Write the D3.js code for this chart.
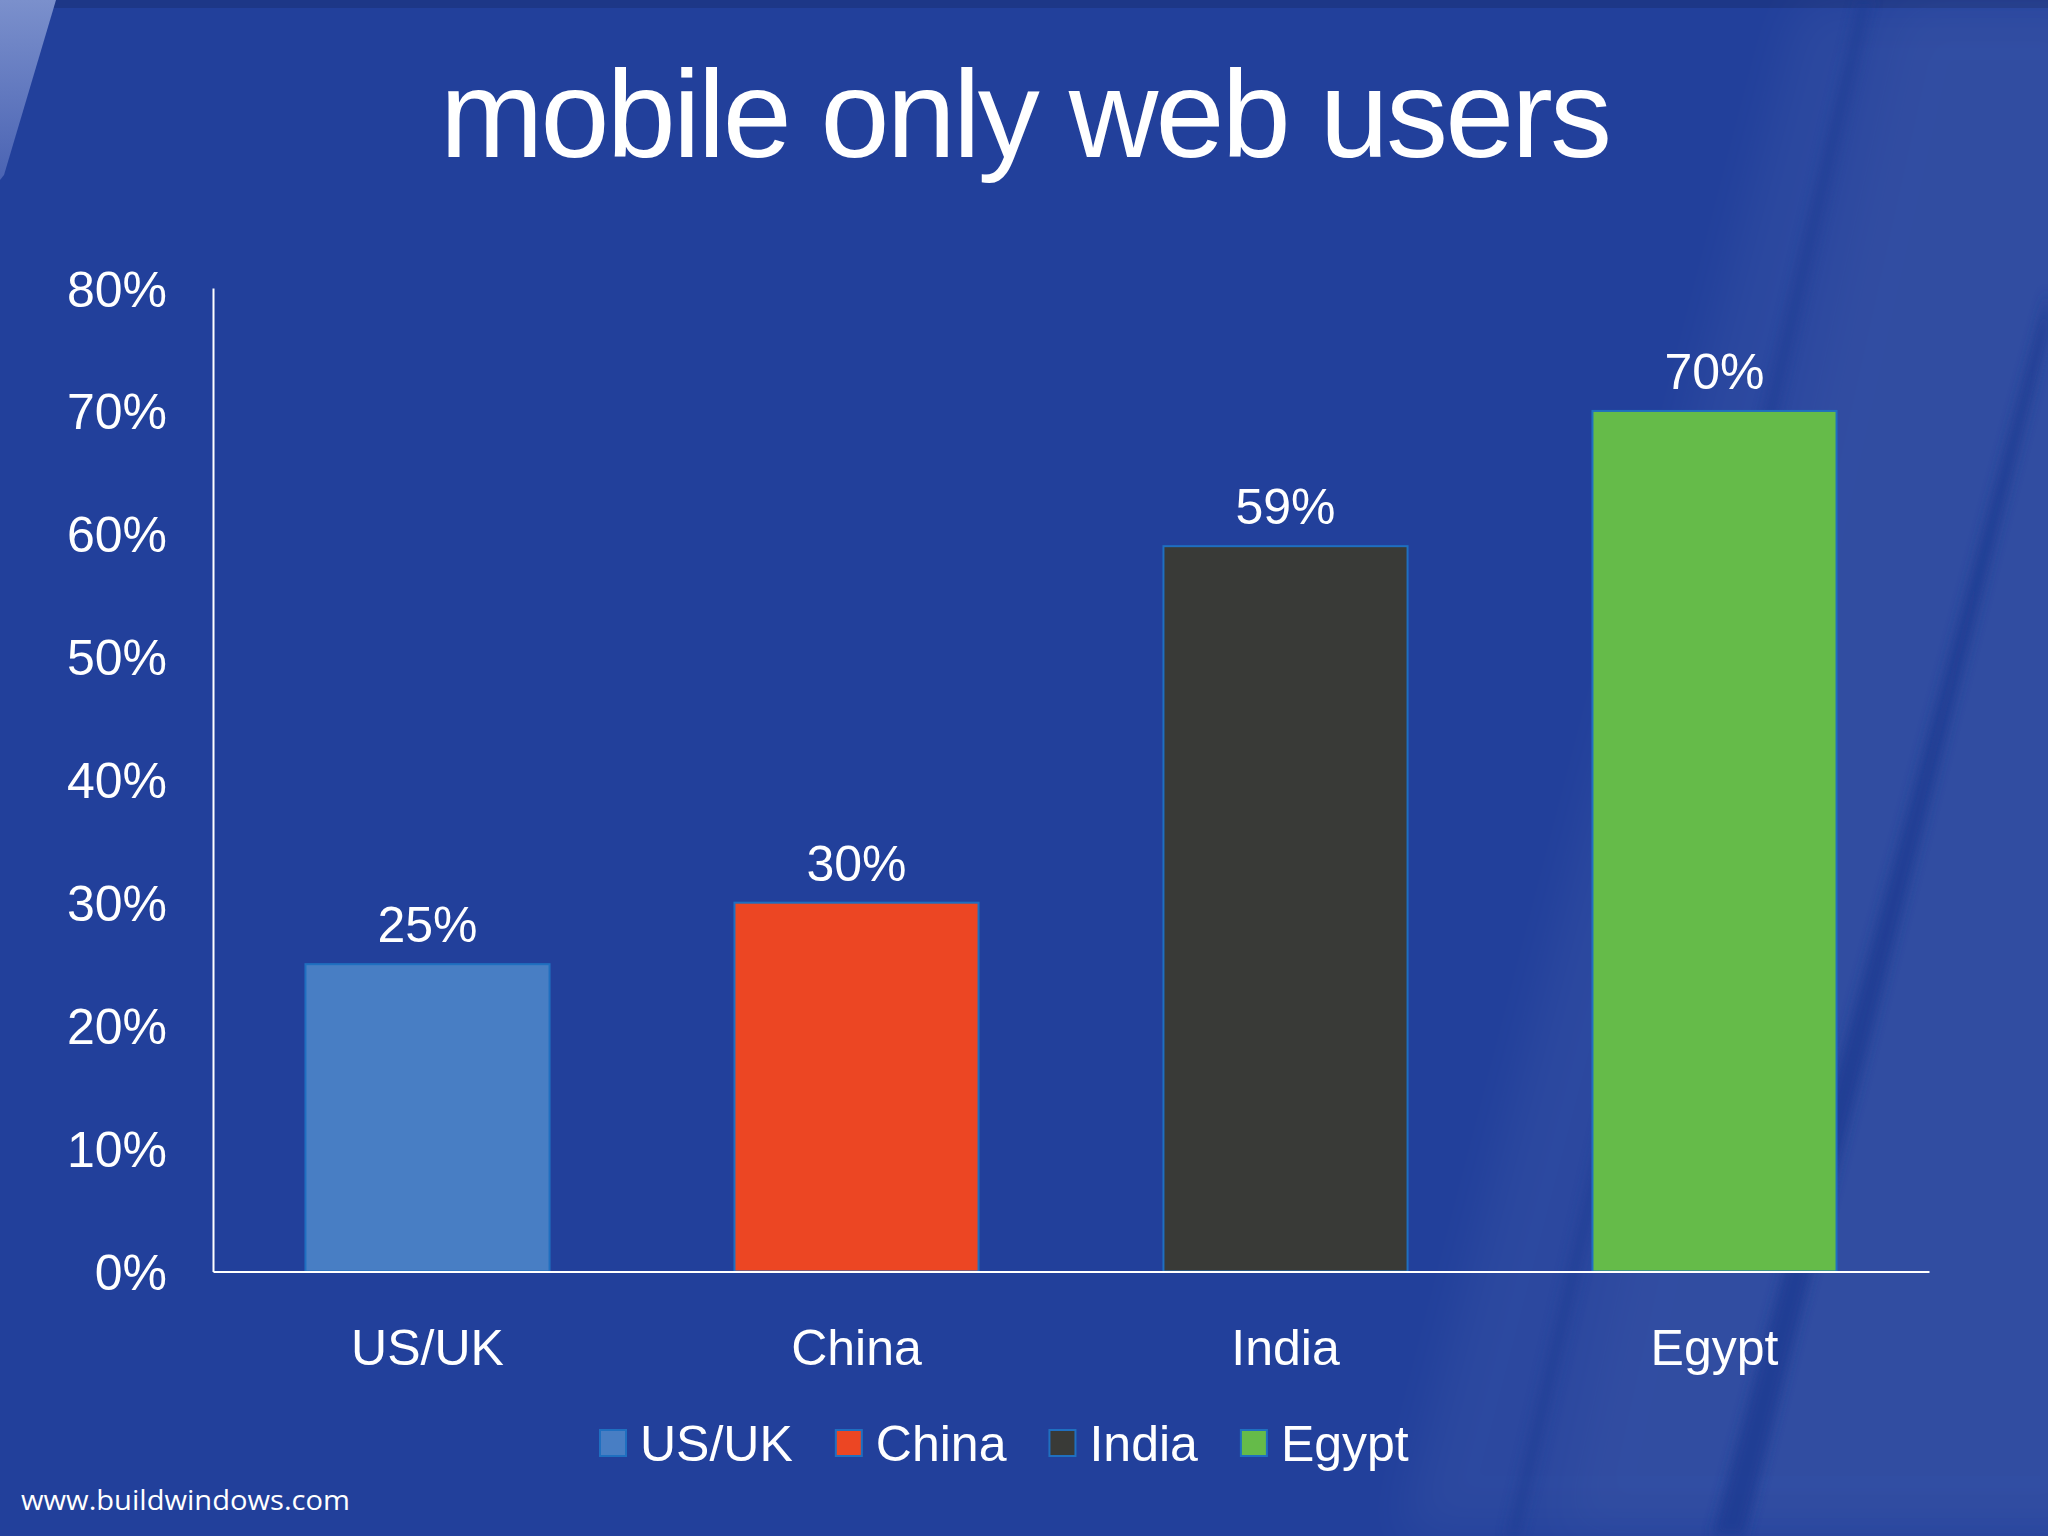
<!DOCTYPE html>
<html>
<head>
<meta charset="utf-8">
<script src="https://cdn.jsdelivr.net/npm/d3@7"></script>
<style>
  html, body { margin: 0; padding: 0; background: #22409b; }
  svg { display: block; }
</style>
</head>
<body>
<svg id="chart" width="2048" height="1536"></svg>
<script>
// Chart data
const categories = ["US/UK", "China", "India", "Egypt"];
const shares = [0.25, 0.30, 0.59, 0.70];
const yTicks = [0, 0.1, 0.2, 0.3, 0.4, 0.5, 0.6, 0.7, 0.8];
const barColors = ["#487ec4", "#ec4623", "#393a37", "#65bb49"];

const width = 2048;
const height = 1536;
const font = "'Liberation Sans', Arial, sans-serif";

const svg = d3.select("#chart");

// Background with the light streaks of the slide template
const defs = svg.append("defs");
const wedge = defs.append("linearGradient").attr("id", "wedge")
  .attr("x1", 0).attr("y1", 0).attr("x2", 0).attr("y2", 1);
wedge.append("stop").attr("offset", 0).attr("stop-color", "#7b90cc");
wedge.append("stop").attr("offset", 1).attr("stop-color", "#4a63b3");
defs.append("filter").attr("id", "soft")
  .append("feGaussianBlur").attr("stdDeviation", 6);
defs.append("filter").attr("id", "wide")
  .attr("x", -0.2).attr("width", 1.4)
  .append("feGaussianBlur").attr("stdDeviation", 25);

svg.append("rect").attr("width", width).attr("height", height).attr("fill", "#22409b");
svg.append("rect").attr("width", width).attr("height", 8).attr("fill", "#1d3787");
svg.append("path")
  .attr("d", "M0,0 L56,0 L4,175 L0,180 Z")
  .attr("fill", "url(#wedge)");
svg.append("path")
  .attr("d", "M1800,0 L2100,0 L2100,1536 L1400,1536 Z")
  .attr("fill", "#ffffff").attr("opacity", 0.045).attr("filter", "url(#wide)");
svg.append("path")
  .attr("d", "M1900,0 L2100,0 L2100,1536 L1560,1536 Z")
  .attr("fill", "#ffffff").attr("opacity", 0.025).attr("filter", "url(#wide)");
svg.append("path")
  .attr("d", "M2048,290 L2048,330 L1745,1536 L1712,1536 Z")
  .attr("fill", "#1f3a92").attr("opacity", 0.8).attr("filter", "url(#soft)");
svg.append("path")
  .attr("d", "M1858,0 L1872,0 L1520,1536 L1506,1536 Z")
  .attr("fill", "#1f3a92").attr("opacity", 0.5).attr("filter", "url(#soft)");

// Title
svg.append("text")
  .attr("x", 1026)
  .attr("y", 157)
  .attr("text-anchor", "middle")
  .attr("font-family", font)
  .attr("font-size", 124)
  .attr("fill", "#ffffff")
  .attr("textLength", 1172)
  .attr("lengthAdjust", "spacing")
  .text("mobile only web users");

// Scales
const x = d3.scaleBand()
  .domain(categories)
  .range([213, 1929])
  .paddingInner(0.431)
  .paddingOuter(0.2155);

const y = d3.scaleLinear()
  .domain([0, 0.8])
  .range([1271.5, 288]);

const color = d3.scaleOrdinal().domain(categories).range(barColors);

// Bars
const data = categories.map((c, i) => ({ name: c, value: shares[i] }));

svg.append("g")
  .selectAll("rect")
  .data(data)
  .join("rect")
  .attr("x", (d) => x(d.name))
  .attr("y", (d) => y(d.value))
  .attr("width", x.bandwidth())
  .attr("height", (d) => y(0) - y(d.value))
  .attr("fill", (d) => color(d.name))
  .attr("stroke", "#1f6fc0")
  .attr("stroke-width", 2);

// Value labels
svg.append("g")
  .selectAll("text")
  .data(data)
  .join("text")
  .attr("x", (d) => x(d.name) + x.bandwidth() / 2)
  .attr("y", (d) => y(d.value) - 22)
  .attr("text-anchor", "middle")
  .attr("font-family", font)
  .attr("font-size", 50)
  .attr("fill", "#ffffff")
  .text((d) => d3.format(".0%")(d.value));

// Y axis
const yAxis = svg.append("g")
  .attr("transform", "translate(213,0)")
  .call(d3.axisLeft(y).tickValues(yTicks).tickFormat(d3.format(".0%")).tickSize(0).tickPadding(46));
yAxis.select(".domain").attr("stroke", "#ffffff").attr("stroke-width", 2);
yAxis.selectAll("text")
  .attr("font-family", font)
  .attr("font-size", 50)
  .attr("fill", "#ffffff")
  .attr("dy", "0.36em");

// X axis
const xAxis = svg.append("g")
  .attr("transform", `translate(0,${y(0)})`)
  .call(d3.axisBottom(x).tickSize(0).tickSizeOuter(0));
xAxis.select(".domain").attr("stroke", "#ffffff").attr("stroke-width", 2);
xAxis.selectAll("text")
  .attr("font-family", font)
  .attr("font-size", 50)
  .attr("fill", "#ffffff")
  .attr("dy", null)
  .attr("y", 1365 - y(0));

// Legend
const legend = svg.append("g").attr("transform", "translate(600,1443)");
let lx = 0;
categories.forEach((c) => {
  const item = legend.append("g").attr("transform", `translate(${lx},0)`);
  item.append("rect")
    .attr("x", 0)
    .attr("y", -13)
    .attr("width", 26)
    .attr("height", 26)
    .attr("fill", color(c))
    .attr("stroke", "#1f6fc0")
    .attr("stroke-width", 2);
  const t = item.append("text")
    .attr("x", 40)
    .attr("y", 18)
    .attr("font-family", font)
    .attr("font-size", 50)
    .attr("fill", "#ffffff")
    .text(c);
  lx += 40 + t.node().getComputedTextLength() + 43;
});

// Footer
svg.append("text")
  .attr("x", 21)
  .attr("y", 1510)
  .attr("font-family", "'Open Sans', 'Noto Sans', sans-serif")
  .attr("font-size", 28)
  .attr("fill", "#ffffff")
  .attr("textLength", 329)
  .attr("lengthAdjust", "spacingAndGlyphs")
  .text("www.buildwindows.com");
</script>
</body>
</html>
